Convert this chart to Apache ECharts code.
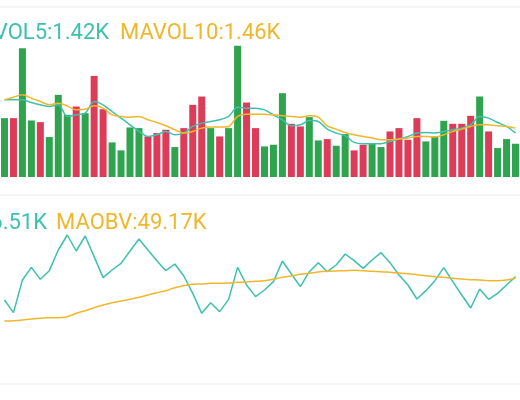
<!DOCTYPE html>
<html>
<head>
<meta charset="utf-8">
<script src="https://cdn.jsdelivr.net/npm/echarts@6/dist/echarts.min.js"></script>
<style>html,body{margin:0;padding:0;background:#fff;}#main{width:520px;height:400px;}</style>
</head>
<body>
<div id="main"></div>
<script>
// 成交量（相对单位）及涨跌方向 G=绿 R=红
var vol = [177,177,387,170,165,120,247,187,212,192,304,204,104,80,149,147,122,132,142,90,147,217,242,147,122,147,395,224,147,
	92,97,252,160,152,180,110,114,94,129,80,97,102,90,137,147,112,177,107,122,169,160,160,184,242,137,87,114,100];
var dir = ['G','R','G','G','R','G','G','G','R','G','R','R','G','G','G','G','R','R','R','G','R','R','R','G','R','G','G','R','R',
	'G','G','G','R','R','G','G','R','G','G','R','R','G','G','R','R','R','R','G','G','G','R','R','R','G','R','G','G','G'];
var mavol5 = [232,232,232,224,217,212,217,182,187,192,227,217,197,177,157,137,122,127,137,127,132,152,162,167,172,182,210,207,207,
	202,187,172,154,157,170,167,144,132,124,104,100,100,100,107,114,122,132,134,132,137,142,147,157,182,177,164,152,132];
var mavol10 = [232,240,247,237,227,217,222,214,202,204,214,207,187,182,180,182,172,164,154,142,132,137,147,150,150,152,182,189,189,
	189,187,184,182,180,184,180,154,144,134,127,122,117,112,112,114,117,122,122,120,127,137,144,152,157,157,154,152,147];
var obv = [270,232,330,368,332,358,420,465,417,462,400,337,360,380,417,453,420,388,358,378,342,290,230,262,235,272,368,315,280,
	300,325,387,348,310,355,382,355,375,408,388,365,390,412,382,345,315,273,298,328,367,325,285,246,303,272,290,315,340];
var maobv = [207,208,210,213,215,217,217,220,230,238,247,255,262,267,272,278,285,292,298,307,313,317,318,320,320,321,323,324,326,
	328,332,338,342,347,350,354,356,357,358,359,358,356,355,353,351,349,346,343,340,338,335,333,331,330,328,328,330,335];
var cats = vol.map(function(v, i){ return i; });

var GREEN = '#2ea44f', RED = '#dd3c58', TEAL = '#3dc1ae', ORANGE = '#efb72c';
var FONT = '22px Roboto';

var myChart = echarts.init(document.getElementById('main'));
var option = {
	backgroundColor: '#fff',
	animation: false,
	grid: [
		{ left: -6, right: -2, top: 40, height: 137 },
		{ left: -6, right: -2, top: 230, height: 154 }
	],
	xAxis: [
		{ type: 'category', data: cats, show: false, boundaryGap: true },
		{ type: 'category', data: cats, show: false, boundaryGap: true, gridIndex: 1 }
	],
	yAxis: [
		{ type: 'value', min: 0, max: 412, show: false },
		{ type: 'value', min: 18, max: 480, show: false, gridIndex: 1 }
	],
	graphic: [
		{ type: 'line', shape: { x1: 0, y1: 7, x2: 520, y2: 7 }, style: { stroke: '#ebebeb', lineWidth: 1 } },
		{ type: 'line', shape: { x1: 0, y1: 195, x2: 520, y2: 195 }, style: { stroke: '#ebebeb', lineWidth: 1 } },
		{ type: 'line', shape: { x1: 0, y1: 384, x2: 520, y2: 384 }, style: { stroke: '#ebebeb', lineWidth: 1 } },
		{ type: 'text', x: -39, y: 33, style: { text: 'MAVOL5:1.42K', fill: TEAL, font: FONT, verticalAlign: 'middle' } },
		{ type: 'text', x: 120, y: 33, style: { text: 'MAVOL10:1.46K', fill: ORANGE, font: FONT, verticalAlign: 'middle' } },
		{ type: 'text', x: -70, y: 223, style: { text: 'OBV:46.51K', fill: TEAL, font: FONT, verticalAlign: 'middle' } },
		{ type: 'text', x: 56, y: 223, style: { text: 'MAOBV:49.17K', fill: ORANGE, font: FONT, verticalAlign: 'middle' } }
	],
	series: [
		{
			name: 'VOL', type: 'bar', barWidth: 7,
			data: vol.map(function(v, i){ return { value: v, itemStyle: { color: dir[i] === 'G' ? GREEN : RED } }; })
		},
		{ name: 'MAVOL5', type: 'line', data: mavol5, showSymbol: false, smooth: 0.3, lineStyle: { color: TEAL, width: 1.5 } },
		{ name: 'MAVOL10', type: 'line', data: mavol10, showSymbol: false, smooth: 0.3, lineStyle: { color: ORANGE, width: 1.5 } },
		{ name: 'OBV', type: 'line', xAxisIndex: 1, yAxisIndex: 1, data: obv, showSymbol: false, lineStyle: { color: TEAL, width: 1.5 } },
		{ name: 'MAOBV', type: 'line', xAxisIndex: 1, yAxisIndex: 1, data: maobv, showSymbol: false, smooth: 0.3, lineStyle: { color: ORANGE, width: 1.5 } }
	]
};
myChart.setOption(option);
</script>
</body>
</html>
